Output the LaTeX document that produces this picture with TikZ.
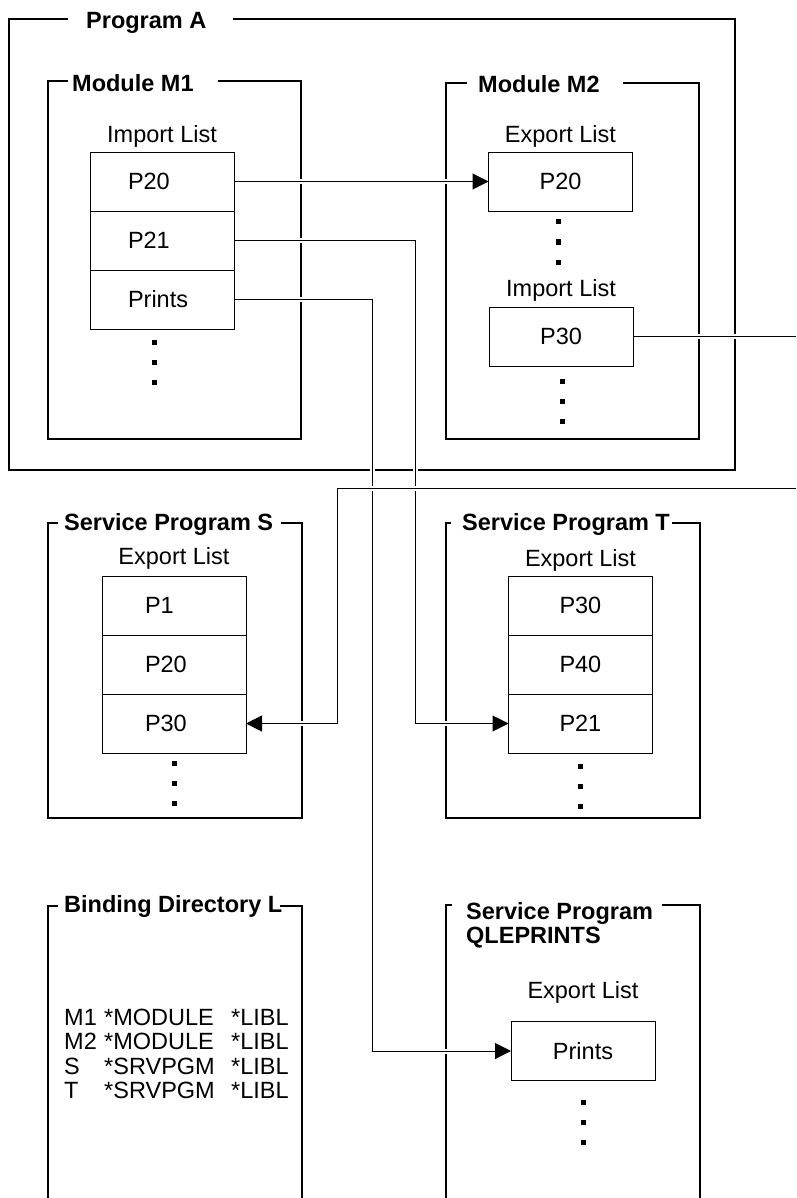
\documentclass[tikz,border=0pt]{standalone}
\usepackage{fontspec}
\setmainfont{Liberation Sans}
\usetikzlibrary{positioning, arrows.meta}
\tikzstyle{outer} = [line width=1.8pt]
\tikzstyle{frame} = [line width=1.2pt]
\tikzstyle{title} = [anchor=west, inner sep=0pt, text height=17pt, text depth=0pt, font=\bfseries\fontsize{23.5}{24}\selectfont]
\tikzstyle{caption} = [inner sep=0pt, font=\fontsize{23.5}{24}\selectfont]
\tikzstyle{cell} = [rectangle, draw, line width=0.9pt, minimum width=144pt, minimum height=59pt, inner sep=0pt, outer sep=0pt, align=left, font=\fontsize{23.5}{24}\selectfont]
\tikzstyle{box} = [rectangle, draw, line width=0.9pt, minimum width=144pt, minimum height=59pt, inner sep=0pt, outer sep=0pt, font=\fontsize{23.5}{24}\selectfont]
\tikzstyle{link} = [line width=1pt, preaction={draw=white, line width=5pt, -, shorten <=3pt, shorten >=3pt}]
\tikzstyle{arrow} = [link, ->, >={Triangle[length=16pt,width=16pt]}]
\newcommand{\stackdots}[2]{\foreach \k in {0,1,2} {\fill (#1-2.5,#2-2.5+20*\k) rectangle ++(5,5);}}

\begin{document}
\begin{tikzpicture}[x=1pt, y=-1pt]
    \useasboundingbox (0,0) rectangle (796,1198);

    % Program A
    \draw[outer] (233,19) -| (735,470) -| (9,19) -- (68,19);
    \node (proga) [title] at (86,20) {Program A};

    % Module M1
    \draw[frame] (218,81) -| (301,439) -| (48,81) -- (68,81);
    \node (modm1) [title] at (72,83) {Module M1};
    \node (m1p20) [cell, text width=68pt] at (162,181.5) {P20};
    \node (m1p21) [cell, text width=68pt, below=0pt of m1p20] {P21};
    \node (m1prints) [cell, text width=68pt, below=0pt of m1p21] {Prints};
    \node (m1import) [caption, above=4pt of m1p20] {Import List};
    \stackdots{154}{342}

    % Module M2
    \draw[frame] (623,83) -| (699,439) -| (446,83) -- (467,83);
    \node (modm2) [title] at (478,84) {Module M2};
    \node (m2p20) [box] at (560.5,181.5) {P20};
    \node (m2export) [caption, above=4pt of m2p20] {Export List};
    \stackdots{558}{222}
    \node (m2p30) [box] at (561,336.5) {P30};
    \node (m2import) [caption, above=5pt of m2p30] {Import List};
    \stackdots{562}{381}

    % Service Program S
    \draw[frame] (281,523) -| (302,818) -| (48,523) -- (58,523);
    \node (srvs) [title] at (64,522) {Service Program S};
    \node (s1) [cell, text width=58pt] at (174,605.5) {P1};
    \node (s20) [cell, text width=58pt, below=0pt of s1] {P20};
    \node (s30) [cell, text width=58pt, below=0pt of s20] {P30};
    \node (sexport) [caption, above=6pt of s1] {Export List};
    \stackdots{174}{763}

    % Service Program T
    \draw[frame] (672,523) -| (700,818) -| (446,523) -- (451,523);
    \node (srvt) [title] at (462,522) {Service Program T};
    \node (t30) [cell, text width=42pt] at (580.5,605.5) {P30};
    \node (t40) [cell, text width=42pt, below=0pt of t30] {P40};
    \node (t21) [cell, text width=42pt, below=0pt of t40] {P21};
    \node (texport) [caption, above=4pt of t30] {Export List};
    \stackdots{580}{766}

    % Binding Directory L
    \draw[frame] (48,1198) |- (58,906);
    \draw[frame] (280,906) -| (302,1198);
    \node (bindl) [title] at (64,904) {Binding Directory L};
    \node (bindlist) [anchor=base west, inner sep=0pt, font=\fontsize{23.5}{24.5}\selectfont] at (64,1025)
        {\begin{tabular}[t]{@{}p{40pt}@{}p{127pt}@{}l@{}}
        M1 & *MODULE & *LIBL\\
        M2 & *MODULE & *LIBL\\
        S & *SRVPGM & *LIBL\\
        T & *SRVPGM & *LIBL
        \end{tabular}};

    % Service Program QLEPRINTS
    \draw[frame] (446,1198) |- (452,905);
    \draw[frame] (662,905) -| (700,1198);
    \node (srvq) [anchor=north west, inner sep=0pt, align=left, font=\bfseries\fontsize{23.5}{24}\selectfont] at (466,902) {Service Program\\QLEPRINTS};
    \node (qprints) [box] at (583,1051) {Prints};
    \node (qexport) [caption, above=18pt of qprints] {Export List};
    \stackdots{583}{1102}

    % connectors
    \coordinate (p21x) at (415,0);
    \coordinate (printsx) at (372,0);
    \coordinate (exitr) at (796,0);
    \coordinate (reentry) at (796,488);
    \coordinate (p30x) at (337,488);

    \draw [arrow] (m1p20.east) -- (m2p20.west);
    \draw [arrow] (m1p21.east) -- (m1p21.east -| p21x) |- (t21.west);
    \draw [arrow] (m1prints.east) -- (m1prints.east -| printsx) |- (qprints.west);
    \draw [link] (m2p30.east) -- (m2p30.east -| exitr);
    \draw [arrow] (reentry) -- (p30x) |- (s30.east);
\end{tikzpicture}
\end{document}
